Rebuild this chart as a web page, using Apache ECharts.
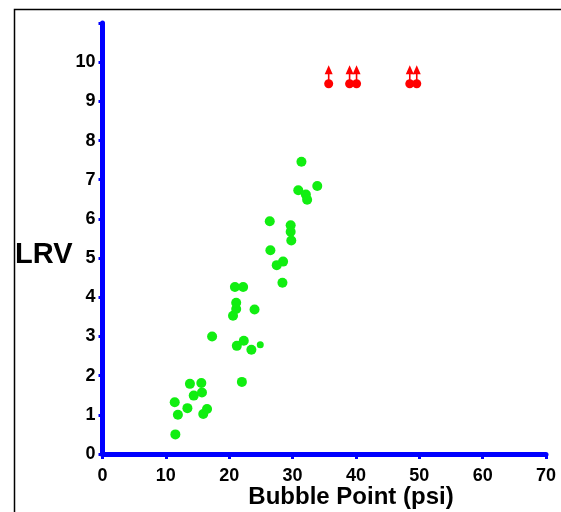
<!DOCTYPE html>
<html>
<head>
<meta charset="utf-8">
<script src="https://cdn.jsdelivr.net/npm/echarts@6/dist/echarts.min.js"></script>
<style>html,body{margin:0;padding:0;background:#fff;}#c{width:561px;height:512px;}</style>
</head>
<body>
<div id="c"></div>
<script>
var xTitle = 'Bubble Point (psi)';
var yTitle = 'LRV';
var xTicks = [0, 10, 20, 30, 40, 50, 60, 70];
var yTicks = [0, 1, 2, 3, 4, 5, 6, 7, 8, 9, 10];
var greenX = [11.5, 11.9, 11.4, 13.4, 13.8, 14.4, 15.6, 15.7, 15.9, 16.5, 17.3, 20.6, 21.1, 21.1, 20.9, 22.2, 24.0, 21.2, 22.3, 23.5, 22.0, 31.4, 33.9, 30.9, 32.1, 32.3, 26.4, 29.7, 29.7, 29.8, 26.5, 28.5, 27.5, 28.4];
var greenY = [0.5, 1.0, 1.32, 1.17, 1.79, 1.49, 1.81, 1.57, 1.02, 1.15, 3.0, 3.53, 3.70, 3.86, 4.26, 4.26, 3.69, 2.76, 2.89, 2.66, 1.84, 7.46, 6.84, 6.73, 6.62, 6.49, 5.94, 5.84, 5.67, 5.45, 5.20, 4.91, 4.82, 4.37];
var smallX = [24.9];
var smallY = [2.79];
var redX = [35.7, 39.0, 40.1, 48.5, 49.6];
var redY = [9.45, 9.45, 9.45, 9.45, 9.45];

function pairs(xs, ys) { return xs.map(function (x, i) { return [x, ys[i]]; }); }

var chart = echarts.init(document.getElementById('c'), null, {renderer: 'canvas'});
var font = 'Liberation Sans, Arial, sans-serif';
chart.setOption({
  animation: false,
  backgroundColor: '#fff',
  grid: {left: 102.5, right: 15, top: 23, bottom: 58, containLabel: false},
  xAxis: {
    type: 'value', min: 0, max: 70, interval: 10,
    axisLine: {show: true, lineStyle: {color: '#0000ff', width: 5}},
    axisTick: {show: true, length: 5, lineStyle: {color: '#0000ff', width: 3}},
    splitLine: {show: false},
    axisLabel: {color: '#000', fontFamily: font, fontWeight: 'bold', fontSize: 18, margin: 13,
      formatter: function (v) { return xTicks.indexOf(v) >= 0 ? String(v) : ''; }}
  },
  yAxis: {
    type: 'value', min: 0, max: 11, interval: 1,
    axisLine: {show: true, lineStyle: {color: '#0000ff', width: 5}},
    axisTick: {show: true, length: 4, lineStyle: {color: '#0000ff', width: 3}},
    splitLine: {show: false},
    axisLabel: {color: '#000', fontFamily: font, fontWeight: 'bold', fontSize: 18, margin: 7,
      formatter: function (v) { return yTicks.indexOf(v) >= 0 ? String(v) : ''; }}
  },
  graphic: [
    {type: 'rect', left: 12, top: 7, z: -1, shape: {width: 600, height: 600}, style: {fill: 'none', stroke: '#000', lineWidth: 1.5}},
    {type: 'text', left: 15, top: 240, style: {text: yTitle, fontFamily: font, fontWeight: 'bold', fontSize: 29, fill: '#000'}},
    {type: 'text', x: 351, y: 497, style: {text: xTitle, fontFamily: font, fontWeight: 'bold', fontSize: 24, fill: '#000', align: 'center', verticalAlign: 'middle'}}
  ],
  series: [
    {type: 'scatter', data: pairs(greenX, greenY), symbol: 'circle', symbolSize: 10, itemStyle: {color: '#11ee11', opacity: 1}},
    {type: 'scatter', data: pairs(smallX, smallY), symbol: 'circle', symbolSize: 7, itemStyle: {color: '#11ee11', opacity: 1}},
    {type: 'scatter', data: pairs(redX, redY), symbol: 'circle', symbolSize: 9, itemStyle: {color: '#ff0000', opacity: 1}},
    {type: 'scatter', data: pairs(redX, redY), symbol: 'path://M5,0 L10,9 L6,9 L6,15 L4,15 L4,9 L0,9 Z', symbolSize: [8, 15], symbolOffset: [0, -11], itemStyle: {color: '#ff0000', opacity: 1}}
  ]
});
</script>
</body>
</html>
